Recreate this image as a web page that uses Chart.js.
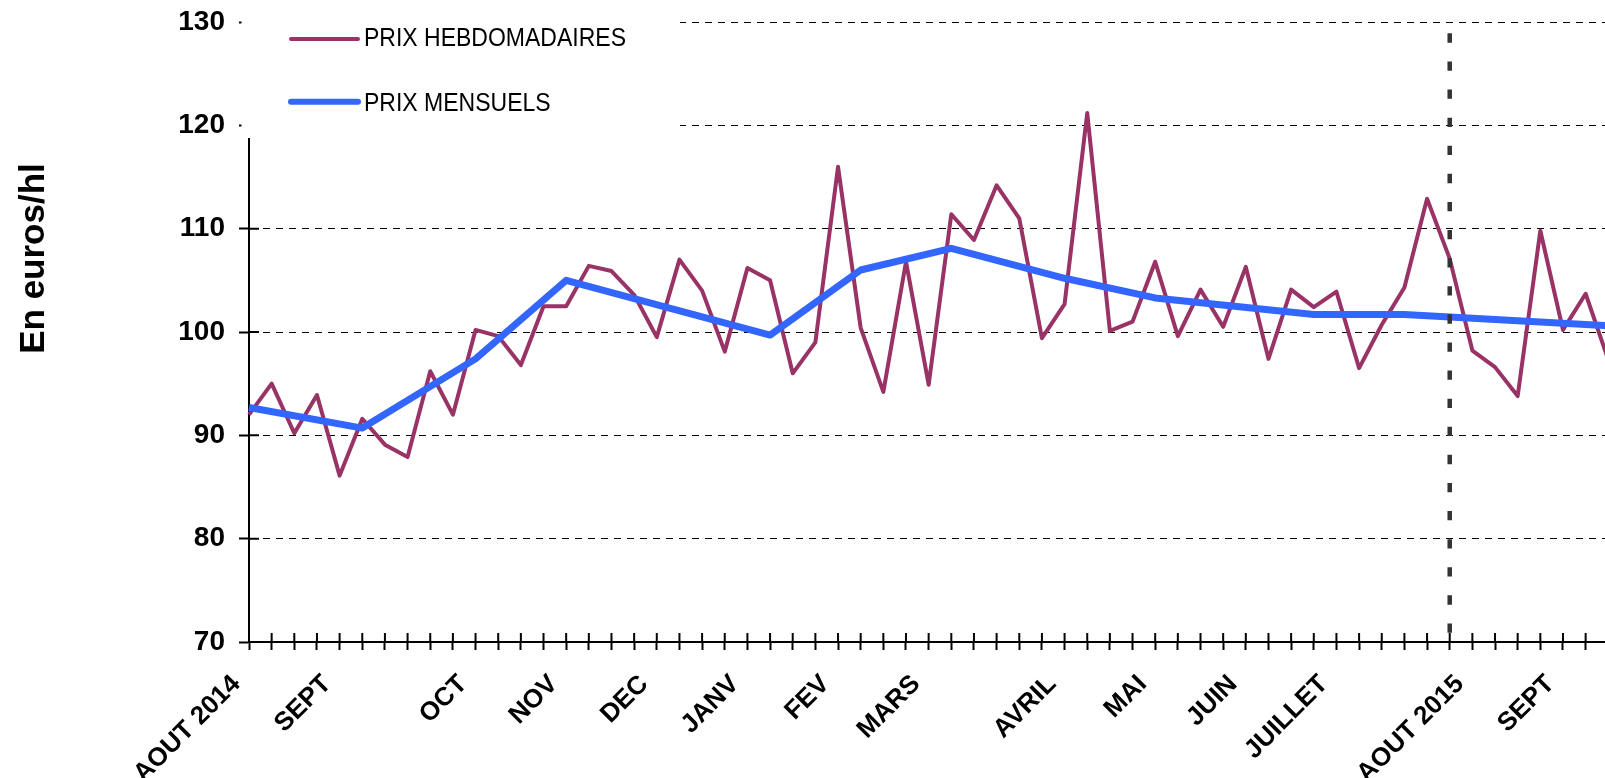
<!DOCTYPE html>
<html>
<head>
<meta charset="utf-8">
<script src="https://cdn.jsdelivr.net/npm/chart.js@4.4.1/dist/chart.umd.min.js"></script>
<style>
  html, body { margin: 0; padding: 0; background: #fff; overflow: hidden; }
  #wrap { position: relative; width: 1610px; height: 778px; }
</style>
</head>
<body>
<div id="wrap"><canvas id="myChart"></canvas></div>
<script>
// one price per week, starting early August 2014 (euros/hl)
let weekly = [92.0, 95.0, 90.2, 93.9, 86.1, 91.6, 89.1, 87.9, 96.2, 92.0,
  100.2, 99.6, 96.8, 102.5, 102.5, 106.4, 105.9, 103.6, 99.5, 107.0,
  104.0, 98.1, 106.2, 105.0, 96.0, 99.0, 116.0, 100.4, 94.2, 106.8,
  94.9, 111.4, 108.9, 114.2, 111.0, 99.4, 102.7, 121.2, 100.1, 101.0,
  106.8, 99.6, 104.1, 100.5, 106.3, 97.4, 104.1, 102.4, 103.9, 96.5,
  100.7, 104.3, 112.9, 107.1, 98.2, 96.6, 93.8, 109.8, 100.2, 103.7,
  97.3];

// monthly prices and the week they are plotted on
let monthlyWeek = [0, 5, 10, 14, 23, 27, 31, 36, 40, 47, 51, 60];
let monthlyPrice = [92.7, 90.7, 97.4, 105.0, 99.7, 106.0, 108.1, 105.2, 103.3, 101.7, 101.7, 100.6];

// month names shown under the axis, and the week each one sits on
let monthNames = ['AOUT 2014', 'SEPT', 'OCT', 'NOV', 'DEC', 'JANV', 'FEV', 'MARS',
  'AVRIL', 'MAI', 'JUIN', 'JUILLET', 'AOUT 2015', 'SEPT'];
let monthWeek = [0, 4, 10, 14, 18, 22, 26, 30, 36, 40, 44, 48, 54, 58];

let yMin = 70, yMax = 130, yStep = 10;
let yearMarkWeek = 53;   // dashed line: start of the new campaign
let yearMarkTop = 128.9;

let seriesNames = ['PRIX HEBDOMADAIRES', 'PRIX MENSUELS'];
let yTitle = 'En euros/hl';

const FONT = "'Liberation Sans', Arial, sans-serif";

let labels = weekly.map((v, i) => {
  const k = monthWeek.indexOf(i);
  return k >= 0 ? monthNames[k] : '';
});
let monthly = weekly.map(() => null);
monthlyWeek.forEach((w, k) => { monthly[w] = monthlyPrice[k]; });

const decor = {
  id: 'decor',
  beforeDatasetsDraw(chart) {
    const {ctx, chartArea: a, scales: {x, y}} = chart;
    ctx.save();
    // inner half of the tick marks (ticks cross the axes)
    ctx.strokeStyle = '#000';
    ctx.lineWidth = 2;
    ctx.beginPath();
    x.ticks.forEach((t, i) => {
      const px = x.getPixelForTick(i);
      ctx.moveTo(px, a.bottom - 9);
      ctx.lineTo(px, a.bottom);
    });
    y.ticks.forEach((t, i) => {
      const py = y.getPixelForTick(i);
      ctx.moveTo(a.left, py);
      ctx.lineTo(a.left + 10, py);
    });
    ctx.stroke();

    // legend sits on an opaque white box over the top-left of the plot
    ctx.fillStyle = '#fff';
    ctx.fillRect(a.left - 7.5, 0, 438.5, 138);
    const items = [
      {ds: chart.data.datasets[0], ly: 39, ty: 39, lw: 4},
      {ds: chart.data.datasets[1], ly: 101.7, ty: 104.5, lw: 6}
    ];
    ctx.font = '25px ' + FONT;
    ctx.textBaseline = 'middle';
    ctx.textAlign = 'left';
    ctx.lineCap = 'round';
    items.forEach(it => {
      ctx.strokeStyle = it.ds.borderColor;
      ctx.lineWidth = it.lw;
      ctx.beginPath();
      ctx.moveTo(291, it.ly);
      ctx.lineTo(358, it.ly);
      ctx.stroke();
      ctx.fillStyle = '#000';
      const w = ctx.measureText(it.ds.label).width;
      ctx.fillText(it.ds.label, 364, it.ty, w * 0.92);
    });

    // axis title
    ctx.translate(34.3, 258.5);
    ctx.rotate(-Math.PI / 2);
    ctx.font = 'bold 35px ' + FONT;
    ctx.textAlign = 'center';
    ctx.fillText(yTitle, 0, 0);
    ctx.restore();
  },
  afterDatasetsDraw(chart) {
    const {ctx, chartArea: a, scales: {x, y}} = chart;
    const px = x.getPixelForValue(yearMarkWeek);
    ctx.save();
    ctx.strokeStyle = '#333';
    ctx.lineWidth = 4.5;
    ctx.setLineDash([9.3, 18.8]);
    ctx.beginPath();
    ctx.moveTo(px, y.getPixelForValue(yearMarkTop));
    ctx.lineTo(px, a.bottom);
    ctx.stroke();
    ctx.restore();
  }
};

new Chart('myChart', {
  type: 'line',
  data: {
    labels: labels,
    datasets: [{
      label: seriesNames[0],
      data: weekly,
      borderColor: '#993366',
      borderWidth: 4,
      borderJoinStyle: 'round',
      pointRadius: 0,
      tension: 0,
      fill: false,
      order: 1
    }, {
      label: seriesNames[1],
      data: monthly,
      borderColor: '#3366FF',
      borderWidth: 7,
      borderJoinStyle: 'round',
      pointRadius: 0,
      tension: 0,
      spanGaps: true,
      fill: false,
      order: 0
    }]
  },
  options: {
    responsive: true,
    maintainAspectRatio: false,
    animation: false,
    events: [],
    layout: {padding: {top: 22, right: 1.7, left: 0, bottom: 0}},
    plugins: {legend: {display: false}, tooltip: {enabled: false}, title: {display: false}},
    scales: {
      x: {
        offset: false,
        afterFit(s) { s.height = 136; s.paddingLeft = 0; s.paddingRight = 0; },
        grid: {display: true, drawOnChartArea: false, drawTicks: true, tickLength: 8, tickWidth: 2, tickColor: '#000'},
        border: {display: true, color: '#000', width: 2},
        ticks: {
          autoSkip: false, maxRotation: 45, minRotation: 45,
          padding: 19, labelOffset: -12.5, color: '#000',
          font: {family: FONT, size: 26, weight: 'bold'}
        }
      },
      y: {
        min: yMin, max: yMax,
        afterFit(s) { s.width = 249; s.paddingTop = 0; s.paddingBottom = 0; },
        grid: {color: '#000', lineWidth: 1, drawTicks: true, tickLength: 10, tickWidth: 2, tickColor: '#000'},
        border: {display: true, color: '#000', width: 2, dash: [7, 6]},
        ticks: {
          stepSize: yStep, padding: 14, color: '#000',
          font: {family: FONT, size: 28, weight: 'bold'}
        }
      }
    }
  },
  plugins: [decor]
});
</script>
</body>
</html>
